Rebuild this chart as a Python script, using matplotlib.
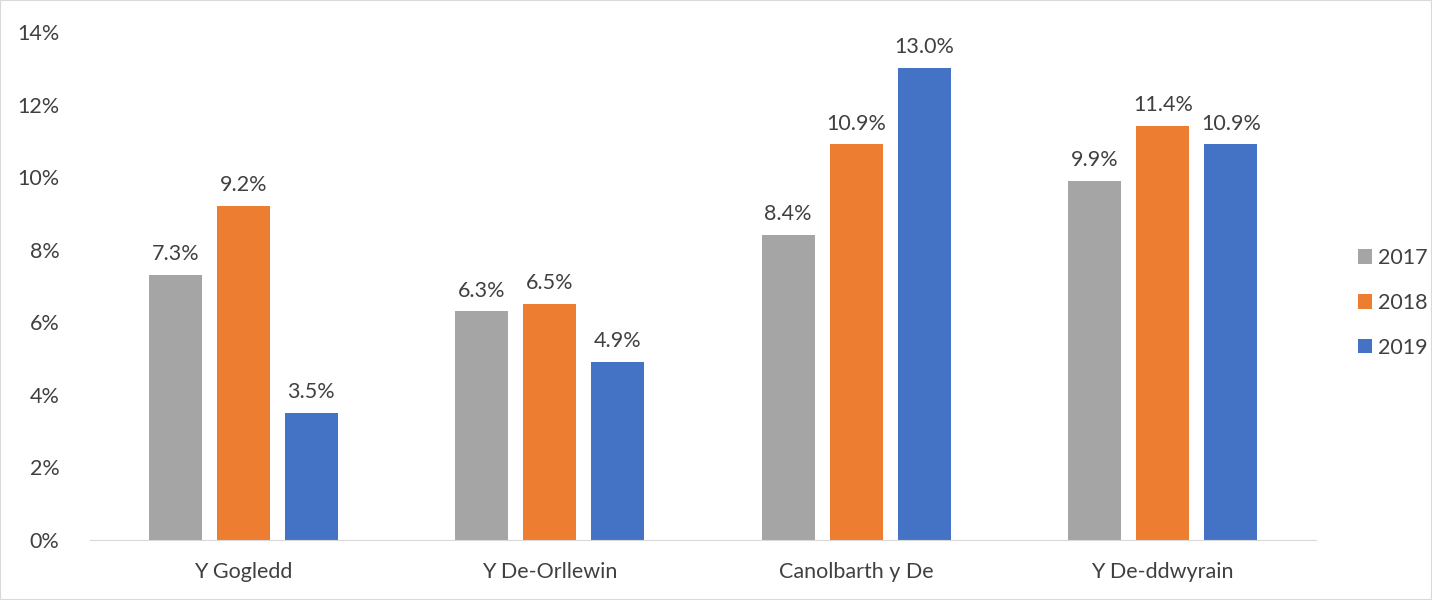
import numpy as np
import matplotlib.pyplot as plt
from matplotlib.patches import Rectangle

regions = ['Y Gogledd', 'Y De-Orllewin', 'Canolbarth y De', 'Y De-ddwyrain']
years = ['2017', '2018', '2019']
vals_2017 = [7.3, 6.3, 8.4, 9.9]
vals_2018 = [9.2, 6.5, 10.9, 11.4]
vals_2019 = [3.5, 4.9, 13.0, 10.9]
colors = ['#A5A5A5', '#ED7D31', '#4472C4']

plt.rcParams['font.family'] = ['Lato', 'DejaVu Sans']
fs = 15.5
txt = '#404040'

fig = plt.figure(figsize=(14.32, 6), dpi=100)
ax = fig.add_axes([90 / 1432, 60 / 600, 1226 / 1432, 508 / 600])

x = np.arange(len(regions))
width = 0.173
step = 0.222
for i, (vals, year, c) in enumerate(zip([vals_2017, vals_2018, vals_2019], years, colors)):
    bars = ax.bar(x + (i - 1) * step, vals, width, color=c, label=year)
    for b, v in zip(bars, vals):
        ax.text(b.get_x() + b.get_width() / 2, v + 0.3, f'{v:.1f}%',
                ha='center', va='bottom', fontsize=fs, color=txt)

ax.set_xlim(-0.5, len(regions) - 0.5)
ax.set_ylim(0, 14)
ax.set_yticks(range(0, 15, 2))
ax.set_yticklabels([f'{t}%' for t in range(0, 15, 2)])
ax.set_xticks(x)
ax.set_xticklabels(regions)
ax.tick_params(axis='both', length=0, labelsize=fs, colors=txt)
ax.tick_params(axis='y', pad=22)
ax.tick_params(axis='x', pad=16)
for s in ['top', 'right', 'left']:
    ax.spines[s].set_visible(False)
ax.spines['bottom'].set_color('#D9D9D9')

ax.legend(loc='center left', bbox_to_anchor=(1358 / 1432, 1 - 303 / 600),
          bbox_transform=fig.transFigure, frameon=False, borderaxespad=0,
          borderpad=0, fontsize=fs, labelcolor=txt, handlelength=0.65,
          handleheight=0.65, handletextpad=0.3, labelspacing=1.15)

fig.patches.append(Rectangle((0, 0), 1, 1, transform=fig.transFigure,
                             fill=False, edgecolor='#D9D9D9', linewidth=1.5))

fig.savefig('out.png', dpi=100)
